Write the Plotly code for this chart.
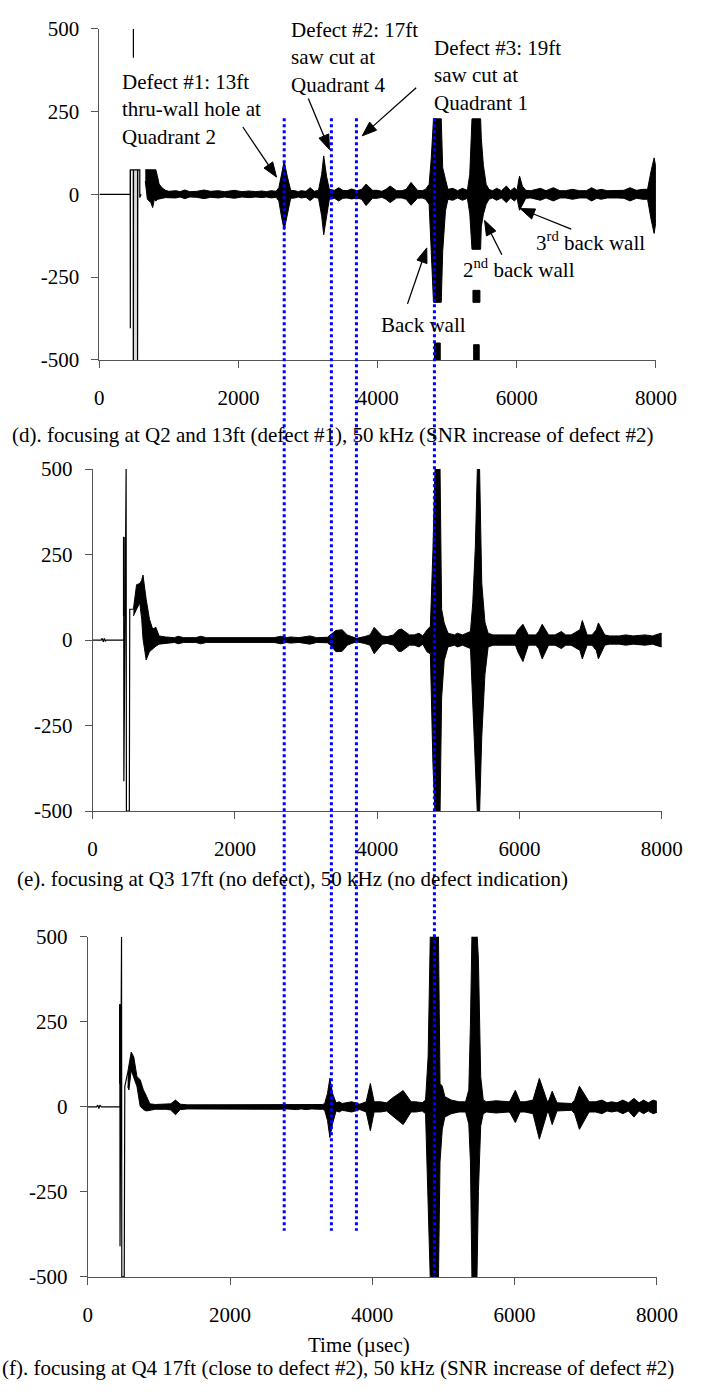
import math
import plotly.graph_objects as go

W, H = 701, 1399
FONT = "Liberation Serif"

# ---------------- axis labels ----------------
y_tickvals = [-500, -250, 0, 250, 500]
y_ticktext = ["-500", "-250", "0", "250", "500"]
x_tickvals = [0, 2000, 4000, 6000, 8000]
x_ticktext = ["0", "2000", "4000", "6000", "8000"]

captions = [
    "(d). focusing at Q2 and 13ft (defect #1), 50 kHz (SNR increase of defect #2)",
    "(e). focusing at Q3 17ft (no defect), 50 kHz (no defect indication)",
    "(f). focusing at Q4 17ft (close to defect #2), 50 kHz (SNR increase of defect #2)",
]
x_title = "Time (µsec)"

# guide times (µsec, on panel d axis)
guide_times = [2657, 3335, 3695, 4816]

# ---------------- panel (d) ----------------
d_line_t = [0, 443, 443, 445, 447, 489, 489, 491, 549, 549, 551, 553, 581, 581, 600, None, 489, 489]
d_line_y = [0, 0, 74, -404, 74, 74, -500, 74, 74, -500, -193, 74, 74, -10, 0, None, 412, 500]
d_shade_t = [470, 540]
d_shade_y = [-500, 74]
d_t = [660, 690, 740, 766, 790, 812, 840, 858, 904, 950, 1000, 1100, 1160, 1227, 1300, 1400, 1504,
       1600, 1711, 1800, 1942, 2050, 2149, 2250, 2333, 2400, 2472, 2540, 2580, 2620, 2657, 2700,
       2750, 2810, 2860, 2900, 2970, 3030, 3090, 3150, 3195, 3225, 3265, 3305, 3380, 3440, 3500,
       3560, 3626, 3700, 3770, 3834, 3927, 3995, 4060, 4120, 4180, 4272, 4350, 4410, 4480, 4572,
       4640, 4688, 4740, 4771, 4803, 4914, 4935, 4975, 5010, 5080, 5150, 5218, 5290, 5324, 5356,
       5480, 5490, 5520, 5560, 5600, 5650, 5710, 5780, 5850, 5910, 5965, 6005, 6025, 6040, 6080,
       6130, 6200, 6340, 6420, 6525, 6620, 6700, 6800, 6900, 7000, 7075, 7150, 7213, 7300, 7444,
       7540, 7628, 7720, 7813, 7880, 7930, 7974, 8010, 8040]
d_up = [74, 74, 74, 74, 74, 74, 50, 31, 19, 12, 9, 11, 8, 13, 8, 9, 13,
        9, 11, 8, 12, 8, 10, 8, 10, 8, 11, 9, 20, 65, 100, 55,
        12, 11, 8, 11, 9, 20, 9, 12, 60, 116, 55, 15, 12, 20, 12,
        11, 16, 11, 15, 31, 12, 12, 9, 15, 25, 11, 11, 15, 36, 12,
        11, 15, 30, 110, 228, 228, 80, 45, 15, 18, 11, 18, 12, 60, 228,
        228, 169, 87, 30, 15, 11, 18, 11, 25, 11, 20, 12, 40, 55, 25,
        12, 11, 18, 11, 20, 11, 11, 15, 11, 11, 20, 12, 15, 11, 11,
        12, 20, 12, 15, 15, 70, 110, 70, 30]
d_lo = [40, -15, -25, -40, -15, -20, -15, -15, -12, -10, -9, -11, -8, -13, -8, -9, -13,
        -9, -11, -8, -12, -8, -10, -8, -10, -8, -11, -9, -20, -70, -107, -60,
        -12, -11, -8, -11, -9, -19, -9, -12, -65, -122, -65, -15, -12, -20, -12,
        -11, -14, -11, -15, -34, -12, -12, -9, -15, -25, -11, -11, -15, -33, -12,
        -11, -15, -30, -175, -326, -326, -172, -50, -15, -18, -11, -18, -12, -58, -166,
        -166, -98, -60, -30, -15, -11, -18, -11, -25, -11, -20, -12, -35, -48, -30,
        -12, -11, -18, -11, -20, -11, -11, -15, -11, -11, -20, -12, -15, -11, -11,
        -12, -20, -12, -15, -15, -75, -118, -70, -30]
# detached clipped pieces: start, end, low, high
d_seg_t0 = [4817, 5370, 5380]
d_seg_t1 = [4900, 5470, 5460]
d_seg_lo = [-500, -326, -500]
d_seg_hi = [-449, -290, -454]

# ---------------- panel (e) ----------------
e_line_t = [0, 120, 135, 150, 165, 180, 190, 437, 437, 439, 471, 475, 516, 518, 520, 522, 573]
e_line_y = [0, 0, 5, -5, 5, -4, 0, 0, 301, -413, 500, -500, -500, -158, 14, 90, 90]
e_t = [573, 618, 663, 690, 708, 730, 753, 799, 844, 889, 934, 1024, 1150, 1203, 1280, 1450, 1519,
       1600, 1925, 2241, 2550, 2647, 2720, 2783, 2900, 3054, 3150, 3300, 3345, 3420, 3507, 3580,
       3642, 3710, 3823, 3900, 3958, 4071, 4139, 4229, 4300, 4342, 4455, 4520, 4590, 4640, 4703,
       4748, 4784, 4816, 4883, 4906, 4942, 4996, 5086, 5130, 5200, 5312, 5344, 5380, 5411, 5438,
       5470, 5515, 5560, 5628, 5800, 5944, 5980, 6049, 6125, 6230, 6270, 6320, 6410, 6500, 6590,
       6650, 6726, 6850, 6884, 6952, 7020, 7080, 7110, 7200, 7268, 7404, 7494, 7600, 7765, 7870,
       7990, 8030]
e_up = [90, 162, 165, 175, 190, 150, 119, 61, 32, 37, 12, 9, 7, 11, 7, 7, 11,
        7, 7, 7, 7, 11, 7, 9, 7, 12, 7, 8, 15, 28, 30, 15,
        10, 5, 10, 15, 37, 12, 10, 15, 30, 32, 15, 15, 20, 12, 30,
        40, 262, 520, 520, 90, 50, 20, 15, 20, 15, 25, 109, 272, 520, 520,
        167, 52, 20, 15, 15, 15, 30, 46, 15, 15, 25, 46, 15, 15, 25,
        15, 15, 30, 57, 15, 15, 30, 50, 15, 12, 12, 15, 12, 15, 12,
        20, 15]
e_lo = [70, 90, 109, 60, 4, -30, -58, -34, -27, -18, -12, -9, -7, -11, -7, -7, -11,
        -7, -7, -7, -7, -11, -7, -9, -7, -12, -7, -8, -15, -34, -33, -15,
        -10, -5, -10, -15, -40, -12, -10, -15, -33, -33, -15, -15, -20, -12, -35,
        -40, -360, -520, -520, -169, -60, -20, -15, -20, -15, -25, -197, -379, -520, -520,
        -284, -101, -20, -15, -15, -15, -35, -63, -15, -15, -25, -55, -15, -15, -25,
        -15, -15, -30, -55, -15, -15, -30, -55, -15, -12, -12, -15, -12, -15, -12,
        -20, -15]
e_seg_t0 = [433]
e_seg_t1 = [443]
e_seg_lo = [71]
e_seg_hi = [301]

# ---------------- panel (f) ----------------
f_line_t = [0, 122, 140, 155, 170, 190, 451, 451, 453, 474, 478, 512, 514, 516, 520, 560]
f_line_y = [0, 0, 5, -5, 5, 0, 0, 301, -410, 500, -500, -500, -171, 26, 60, 100]
f_t = [560, 578, 610, 646, 691, 736, 781, 826, 871, 950, 1100, 1164, 1233, 1299, 1400, 1650, 1900,
       2300, 2710, 2800, 2935, 3000, 3070, 3150, 3230, 3300, 3330, 3370, 3403, 3440, 3490, 3535,
       3575, 3710, 3823, 3913, 3972, 4025, 4117, 4200, 4275, 4433, 4545, 4613, 4700, 4748, 4784,
       4816, 4929, 4951, 4983, 5019, 5109, 5221, 5311, 5356, 5379, 5401, 5469, 5491, 5523, 5559,
       5604, 5739, 5920, 5942, 6010, 6077, 6145, 6258, 6348, 6461, 6483, 6528, 6596, 6686, 6800,
       6844, 6911, 7047, 7137, 7227, 7300, 7363, 7440, 7521, 7600, 7678, 7750, 7813, 7880, 7948,
       8015]
f_up = [100, 127, 161, 147, 89, 80, 50, 31, 9, 7, 7, 9, 20, 8, 6, 6, 7,
        6, 7, 6, 8, 6, 8, 6, 7, 7, 10, 40, 84, 40, 12, 15,
        10, 15, 8, 15, 69, 15, 15, 12, 25, 48, 15, 15, 12, 20, 147,
        520, 520, 69, 61, 30, 20, 15, 15, 50, 243, 520, 520, 435, 89, 20,
        15, 18, 15, 20, 49, 15, 15, 20, 84, 15, 20, 46, 12, 12, 10,
        20, 61, 15, 15, 20, 12, 15, 12, 20, 12, 25, 12, 20, 12, 20,
        15]
f_lo = [60, 50, 108, 89, 60, 2, -8, -12, -9, -7, -7, -9, -23, -8, -6, -6, -7,
        -6, -7, -6, -8, -6, -8, -6, -7, -7, -10, -40, -90, -50, -12, -15,
        -10, -15, -8, -15, -70, -15, -15, -12, -25, -52, -15, -15, -12, -20, -249,
        -520, -520, -162, -66, -30, -20, -15, -15, -50, -162, -520, -520, -249, -56, -20,
        -15, -18, -15, -20, -46, -15, -15, -20, -95, -15, -20, -52, -12, -12, -10,
        -20, -66, -15, -15, -20, -12, -15, -12, -20, -12, -30, -12, -20, -12, -20,
        -15]
f_seg_t0 = [447]
f_seg_t1 = [457]
f_seg_lo = [69]
f_seg_hi = [301]

# ---------------- layout geometry (pixels) ----------------
# (left, right, top, bottom)
boxes = [(98, 676, 17, 354), (91, 682, 465, 813), (86, 677, 941, 1287)]


def px(x):
    return x / W


def py(y):
    return 1 - y / H


fig = go.Figure()

panels = [
    (d_line_t, d_line_y, d_t, d_up, d_lo, d_seg_t0, d_seg_t1, d_seg_lo, d_seg_hi),
    (e_line_t, e_line_y, e_t, e_up, e_lo, e_seg_t0, e_seg_t1, e_seg_lo, e_seg_hi),
    (f_line_t, f_line_y, f_t, f_up, f_lo, f_seg_t0, f_seg_t1, f_seg_lo, f_seg_hi),
]

for i, (lt, ly, et, eu, el, s0, s1, slo, shi) in enumerate(panels):
    xa = "x" if i == 0 else f"x{i+1}"
    ya = "y" if i == 0 else f"y{i+1}"
    if i == 0:
        fig.add_trace(go.Scatter(
            x=[d_shade_t[0], d_shade_t[1], d_shade_t[1], d_shade_t[0]],
            y=[d_shade_y[0], d_shade_y[0], d_shade_y[1], d_shade_y[1]],
            fill="toself", fillcolor="#dadada", line=dict(width=0), mode="lines",
            xaxis=xa, yaxis=ya, hoverinfo="skip", showlegend=False))
    fig.add_trace(go.Scatter(x=lt, y=ly, mode="lines", line=dict(color="black", width=1.2),
                             xaxis=xa, yaxis=ya, showlegend=False, connectgaps=False))
    fig.add_trace(go.Scatter(x=list(et) + list(et)[::-1], y=list(eu) + list(el)[::-1],
                             mode="lines", fill="toself", fillcolor="black",
                             line=dict(color="black", width=1), xaxis=xa, yaxis=ya,
                             showlegend=False))
    sx, sy = [], []
    for a, b, lo, hi in zip(s0, s1, slo, shi):
        sx += [a, b, b, a, a, None]
        sy += [lo, lo, hi, hi, lo, None]
    fig.add_trace(go.Scatter(x=sx, y=sy, mode="lines", fill="toself", fillcolor="black",
                             line=dict(color="black", width=1), xaxis=xa, yaxis=ya,
                             showlegend=False))

axis_common = dict(showgrid=False, zeroline=False, showline=True, linecolor="#555555",
                   linewidth=1, ticks="outside", ticklen=7, tickcolor="#555555",
                   tickfont=dict(family=FONT, size=21, color="black"))

layout = dict(width=W, height=H, margin=dict(l=0, r=0, t=0, b=0),
              paper_bgcolor="white", plot_bgcolor="white", showlegend=False,
              font=dict(family=FONT, size=21, color="black"))

for i, (l, r, t, b) in enumerate(boxes):
    sx = "" if i == 0 else str(i + 1)
    layout[f"xaxis{sx}"] = dict(axis_common, domain=[px(l), px(r)], range=[0, 8000],
                                tickvals=x_tickvals, ticktext=x_ticktext,
                                anchor=f"y{sx}", ticklabelstandoff=12)
    layout[f"yaxis{sx}"] = dict(axis_common, domain=[py(b), py(t)], range=[-500, 500],
                                tickvals=y_tickvals, ticktext=y_ticktext,
                                anchor=f"x{sx}", ticklabelstandoff=8)

fig.update_layout(**layout)

ann = []
# captions
ann.append(dict(text=captions[0], x=px(5), y=py(430), xanchor="left", yanchor="middle"))
ann.append(dict(text=captions[1], x=px(10), y=py(882), xanchor="left", yanchor="middle"))
ann.append(dict(text=captions[2], x=px(697), y=py(1380), xanchor="right", yanchor="middle"))
ann.append(dict(text=x_title, x=px(368), y=py(1356), xanchor="center", yanchor="middle"))

# labels in panel d
ann.append(dict(text="Defect #1: 13ft<br>thru-wall hole at<br>Quadrant 2", x=px(119), y=py(99),
                xanchor="left", yanchor="middle", align="left"))
ann.append(dict(text="Defect #2: 17ft<br>saw cut at<br>Quadrant 4", x=px(295), y=py(46),
                xanchor="left", yanchor="middle", align="left"))
ann.append(dict(text="Defect #3: 19ft<br>saw cut at<br>Quadrant 1", x=px(443), y=py(65),
                xanchor="left", yanchor="middle", align="left"))
ann.append(dict(text="Back wall", x=px(388), y=py(318), xanchor="left", yanchor="middle"))
ann.append(dict(text="2<sup>nd</sup> back wall", x=px(474), y=py(261), xanchor="left", yanchor="middle"))
ann.append(dict(text="3<sup>rd</sup> back wall", x=px(549), y=py(233), xanchor="left", yanchor="middle"))
for a in ann:
    a.update(xref="paper", yref="paper", showarrow=False,
             font=dict(family=FONT, size=21, color="black"))
fig.update_layout(annotations=ann)

shapes = []
# arrows: (tail, head) in pixels, drawn as a line plus a filled triangular head
arrows = [((247, 117), (282, 168)), ((315, 88), (337, 140)), ((427, 77), (371, 126)),
          ((418, 297), (438, 240)), ((516, 247), (498, 212)), ((588, 221), (535, 200))]
HEAD_L, HEAD_W = 15, 11
for (tx, ty), (hx, hy) in arrows:
    dx, dy = hx - tx, hy - ty
    n = math.hypot(dx, dy)
    ux, uy = dx / n, dy / n
    bx, by = hx - HEAD_L * ux, hy - HEAD_L * uy
    nx, ny = -uy, ux
    p1 = (bx + HEAD_W / 2 * nx, by + HEAD_W / 2 * ny)
    p2 = (bx - HEAD_W / 2 * nx, by - HEAD_W / 2 * ny)
    shapes.append(dict(type="line", xref="paper", yref="paper", x0=px(tx), y0=py(ty),
                       x1=px(bx), y1=py(by), line=dict(color="black", width=1.3)))
    path = (f"M {px(hx)} {py(hy)} L {px(p1[0])} {py(p1[1])} "
            f"L {px(p2[0])} {py(p2[1])} Z")
    shapes.append(dict(type="path", xref="paper", yref="paper", path=path,
                       fillcolor="black", line=dict(color="black", width=1)))

# blue dotted guide lines, positioned on panel (d)'s time axis
l0, r0 = boxes[0][0], boxes[0][1]
ends = [1240, 1240, 1240, 1287]
for tg, yend in zip(guide_times, ends):
    xp = px(l0 + tg / 8000 * (r0 - l0))
    shapes.append(dict(type="line", xref="paper", yref="paper", x0=xp, x1=xp,
                       y0=py(108), y1=py(yend),
                       line=dict(color="#0000ff", width=3, dash="dot")))
fig.update_layout(shapes=shapes)

fig.write_html("out.html")
